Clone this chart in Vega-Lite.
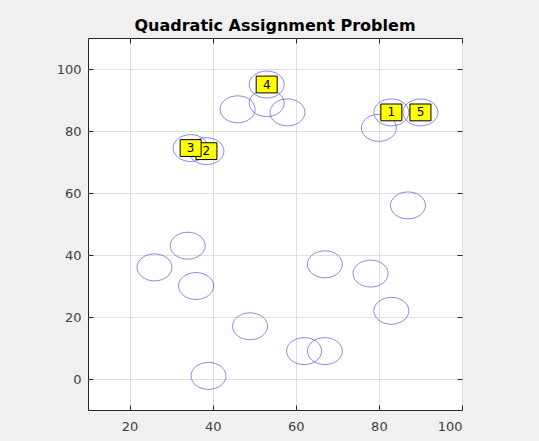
{
  "$schema": "https://vega.github.io/schema/vega-lite/v6.json",
  "autosize": {"type": "none"},
  "width": 374,
  "height": 372,
  "padding": {"left": 88, "top": 38, "right": 77, "bottom": 31},
  "background": "#f0f0f0",
  "title": {"text": "Quadratic Assignment Problem", "font": "DejaVu Sans", "fontSize": 16, "fontWeight": "bold", "color": "#000000", "baseline": "alphabetic", "offset": 7, "dy": 16},
  "config": {"view": {"fill": "white", "stroke": "#262626", "strokeWidth": 1}},
  "datasets": {
    "sites": [
      {"x": 34, "y": 43}, {"x": 26, "y": 36}, {"x": 36, "y": 30}, {"x": 49, "y": 17},
      {"x": 39, "y": 1}, {"x": 62, "y": 9}, {"x": 67, "y": 9}, {"x": 87, "y": 56},
      {"x": 67, "y": 37}, {"x": 78, "y": 34}, {"x": 83, "y": 22}, {"x": 53, "y": 95},
      {"x": 46, "y": 87}, {"x": 53, "y": 89}, {"x": 58, "y": 86}, {"x": 34.7, "y": 74.5},
      {"x": 38.5, "y": 73.5}, {"x": 83, "y": 86}, {"x": 90, "y": 86}, {"x": 80, "y": 81}
    ],
    "labels": [
      {"id": "1", "x": 83, "y": 86},
      {"id": "2", "x": 38.5, "y": 73.5},
      {"id": "3", "x": 34.7, "y": 74.5},
      {"id": "4", "x": 53, "y": 95},
      {"id": "5", "x": 90, "y": 86}
    ]
  },
  "layer": [
    {
      "data": {"name": "sites"},
      "mark": {"type": "point", "shape": "M-1,0A1,0.77,0,1,1,1,0A1,0.77,0,1,1,-1,0Z", "size": 1225, "filled": false, "stroke": "#3a3ad8", "strokeWidth": 0.6, "opacity": 1},
      "encoding": {
        "x": {"field": "x", "type": "quantitative", "scale": {"domain": [10, 100], "nice": false, "zero": false},
          "axis": {"orient": "bottom", "values": [20, 40, 60, 80, 100], "grid": true, "gridColor": "#dfdfdf", "gridWidth": 1, "domain": false, "ticks": true, "tickSize": -5, "tickColor": "#262626", "labelFont": "DejaVu Sans", "labelFontSize": 13, "labelColor": "#404040", "labelPadding": 15, "title": null}},
        "y": {"field": "y", "type": "quantitative", "scale": {"domain": [-10, 110], "nice": false, "zero": false},
          "axis": {"orient": "left", "values": [0, 20, 40, 60, 80, 100], "grid": true, "gridColor": "#dfdfdf", "gridWidth": 1, "domain": false, "ticks": true, "tickSize": -5, "tickColor": "#262626", "labelFont": "DejaVu Sans", "labelFontSize": 13, "labelColor": "#404040", "labelPadding": 12, "title": null}}
      }
    },
    {
      "data": {"name": "labels"},
      "mark": {"type": "point", "shape": "M-1,-0.8H1V0.8H-1Z", "size": 441, "filled": true, "fill": "#ffff00", "stroke": "#000000", "strokeWidth": 1, "opacity": 1},
      "encoding": {
        "x": {"field": "x", "type": "quantitative",
          "axis": {"orient": "top", "values": [20, 40, 60, 80, 100], "grid": false, "domain": false, "labels": false, "tickSize": -5, "tickColor": "#262626", "title": null}},
        "y": {"field": "y", "type": "quantitative",
          "axis": {"orient": "right", "values": [0, 20, 40, 60, 80, 100], "grid": false, "domain": false, "labels": false, "tickSize": -5, "tickColor": "#262626", "title": null}}
      }
    },
    {
      "data": {"name": "labels"},
      "mark": {"type": "text", "font": "DejaVu Sans", "fontSize": 12, "color": "#000000"},
      "encoding": {
        "x": {"field": "x", "type": "quantitative", "axis": null},
        "y": {"field": "y", "type": "quantitative", "axis": null},
        "text": {"field": "id"}
      }
    }
  ],
  "resolve": {"axis": {"x": "independent", "y": "independent"}}
}
